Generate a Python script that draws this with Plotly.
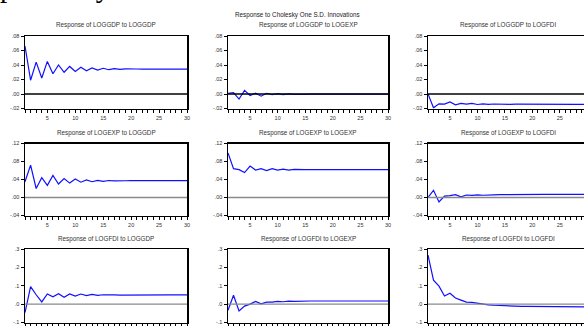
import plotly.graph_objects as go

periods = list(range(1, 31))

gdp_gdp = [0.066, 0.019, 0.044, 0.022, 0.045, 0.028, 0.040, 0.030, 0.038, 0.031,
           0.037, 0.032, 0.036, 0.033, 0.0355, 0.0335, 0.035, 0.034, 0.0347, 0.0342,
           0.0345, 0.0343, 0.0344, 0.0343, 0.0344, 0.0343, 0.0343, 0.0343, 0.0343, 0.0343]
gdp_exp = [0.001, 0.002, -0.007, 0.005, -0.002, 0.001, -0.003, 0.001, -0.001, 0.0005,
           -0.0008, 0.0002, -0.0005, 0.0, -0.0004, -0.0001, -0.0003, -0.0002, -0.0003, -0.0002,
           -0.0003, -0.0003, -0.0003, -0.0003, -0.0003, -0.0003, -0.0003, -0.0003, -0.0003, -0.0003]
gdp_fdi = [0.0, -0.019, -0.0135, -0.014, -0.011, -0.015, -0.013, -0.014, -0.013, -0.0145,
           -0.0135, -0.0143, -0.0138, -0.0142, -0.014, -0.0142, -0.0141, -0.0142, -0.0141, -0.0142,
           -0.0142, -0.0142, -0.0142, -0.0142, -0.0142, -0.0142, -0.0142, -0.0142, -0.0142, -0.0142]
exp_gdp = [0.035, 0.072, 0.020, 0.044, 0.027, 0.049, 0.030, 0.042, 0.032, 0.041,
           0.034, 0.039, 0.035, 0.038, 0.036, 0.0378, 0.0368, 0.0377, 0.0372, 0.0376,
           0.0374, 0.0376, 0.0375, 0.0375, 0.0375, 0.0375, 0.0375, 0.0375, 0.0375, 0.0375]
exp_exp = [0.099, 0.064, 0.062, 0.0555, 0.070, 0.061, 0.064, 0.060, 0.064, 0.061,
           0.063, 0.061, 0.0625, 0.0615, 0.062, 0.0618, 0.0619, 0.0618, 0.0618, 0.0618,
           0.0618, 0.0618, 0.0618, 0.0618, 0.0618, 0.0618, 0.0618, 0.0618, 0.0618, 0.0618]
exp_fdi = [0.0, 0.016, -0.010, 0.003, 0.004, 0.0065, 0.0015, 0.0055, 0.0045, 0.0058,
           0.005, 0.006, 0.0058, 0.0063, 0.0062, 0.0065, 0.0066, 0.0068, 0.0069, 0.007,
           0.007, 0.007, 0.007, 0.007, 0.007, 0.007, 0.007, 0.007, 0.007, 0.007]
fdi_gdp = [-0.046, 0.095, 0.051, 0.012, 0.055, 0.040, 0.057, 0.037, 0.055, 0.044,
           0.055, 0.046, 0.053, 0.048, 0.051, 0.049, 0.0505, 0.0495, 0.050, 0.050,
           0.050, 0.050, 0.050, 0.050, 0.050, 0.050, 0.050, 0.050, 0.050, 0.050]
fdi_exp = [-0.033, 0.048, -0.037, -0.011, 0.0, 0.015, 0.002, 0.011, 0.011, 0.015,
           0.013, 0.0165, 0.0155, 0.017, 0.0165, 0.017, 0.017, 0.017, 0.017, 0.017,
           0.017, 0.017, 0.017, 0.017, 0.017, 0.017, 0.017, 0.017, 0.017, 0.017]
fdi_fdi = [0.267, 0.130, 0.098, 0.044, 0.059, 0.033, 0.022, 0.011, 0.009, 0.004,
           0.0, -0.004, -0.006, -0.008, -0.009, -0.010, -0.011, -0.012, -0.0125, -0.013,
           -0.0133, -0.0136, -0.0138, -0.014, -0.0142, -0.0144, -0.0145, -0.0146, -0.0147, -0.0148]

variables = ["LOGGDP", "LOGEXP", "LOGFDI"]
series = [[gdp_gdp, gdp_exp, gdp_fdi],
          [exp_gdp, exp_exp, exp_fdi],
          [fdi_gdp, fdi_exp, fdi_fdi]]

row_tickvals = [[-0.02, 0.0, 0.02, 0.04, 0.06, 0.08],
                [-0.04, 0.0, 0.04, 0.08, 0.12],
                [-0.1, 0.0, 0.1, 0.2, 0.3]]
row_ticktext = [["-.02", ".00", ".02", ".04", ".06", ".08"],
                ["-.04", ".00", ".04", ".08", ".12"],
                ["-.1", ".0", ".1", ".2", ".3"]]
x_tickvals = [5, 10, 15, 20, 25, 30]
x_ticktext = ["5", "10", "15", "20", "25", "30"]

main_title = "Response to Cholesky One S.D. Innovations"
page_fragment = "period by"

W, H = 584, 326
col_px = [(25, 187), (228, 388), (428, 584)]
col_xrange = [[1, 30], [1, 30], [1, 29.4]]
row_px = [(36, 108.5), (143.5, 215.5), (249, 322.5)]
row_zero_color = ["#000000", "#8a8a8a", "#8a8a8a"]
title_px_y = [25, 133, 239]

fig = go.Figure()
font_fam = "Liberation Sans, Arial, sans-serif"
annotations = []
shapes = []
layout = {}

k = 0
for r in range(3):
    for c in range(3):
        k += 1
        xa = "xaxis" if k == 1 else f"xaxis{k}"
        ya = "yaxis" if k == 1 else f"yaxis{k}"
        xref = "x" if k == 1 else f"x{k}"
        yref = "y" if k == 1 else f"y{k}"
        x0, x1 = col_px[c]
        y0, y1 = row_px[r]
        yvals = row_tickvals[r]
        layout[xa] = dict(
            domain=[x0 / W, x1 / W], anchor=yref, range=col_xrange[c],
            tickvals=x_tickvals, ticktext=x_ticktext, ticks="outside", ticklen=3,
            tickwidth=1, tickcolor="#000", showline=True, linecolor="#000", linewidth=1.5,
            mirror=True, showgrid=False, zeroline=False, automargin=False,
            tickfont=dict(size=5.5, family=font_fam, color="#333"),
            minor=dict(dtick=1, tick0=1, ticks="outside", ticklen=3, tickcolor="#000", showgrid=False),
            fixedrange=True,
        )
        layout[ya] = dict(
            domain=[1 - y1 / H, 1 - y0 / H], anchor=xref, range=[yvals[0], yvals[-1]],
            tickvals=yvals, ticktext=row_ticktext[r], ticks="outside", ticklen=3,
            tickwidth=1, tickcolor="#000", showline=True, linecolor="#000", linewidth=1.5,
            mirror=True, showgrid=False, zeroline=False, automargin=False,
            tickfont=dict(size=5.5, family=font_fam, color="#333"),
            fixedrange=True,
        )
        shapes.append(dict(type="line", xref=f"{xref} domain", yref=yref, x0=0, x1=1,
                           y0=0, y1=0, line=dict(color=row_zero_color[r], width=1.3)))
        fig.add_trace(go.Scatter(x=periods, y=series[r][c], mode="lines",
                                 line=dict(color="#1010ff", width=1.2),
                                 xaxis=xref, yaxis=yref, showlegend=False,
                                 hoverinfo="skip"))
        annotations.append(dict(
            text=f"Response of {variables[r]} to {variables[c]}",
            x=(x0 + x1) / 2 / W if c < 2 else 508 / W, y=1 - title_px_y[r] / H,
            xref="paper", yref="paper", showarrow=False, xanchor="center", yanchor="middle",
            font=dict(size=6.3, family=font_fam, color="#333")))

annotations.append(dict(text=main_title, x=297 / W, y=1 - 15 / H, xref="paper", yref="paper",
                        showarrow=False, xanchor="center", yanchor="middle",
                        font=dict(size=6.3, family=font_fam, color="#222")))
annotations.append(dict(text=page_fragment, x=-2 / W, y=1 + 13 / H, xref="paper", yref="paper",
                        showarrow=False, xanchor="left", yanchor="middle",
                        font=dict(size=29, family="Liberation Serif, Times New Roman, serif",
                                  color="#000")))

fig.update_layout(width=W, height=H, margin=dict(l=0, r=0, t=0, b=0, autoexpand=False),
                  paper_bgcolor="white", plot_bgcolor="white",
                  annotations=annotations, shapes=shapes, **layout)

fig.write_html("out.html", config={"displayModeBar": False, "staticPlot": True},
               post_script="document.body.style.margin='0';document.body.style.overflow='hidden';")
